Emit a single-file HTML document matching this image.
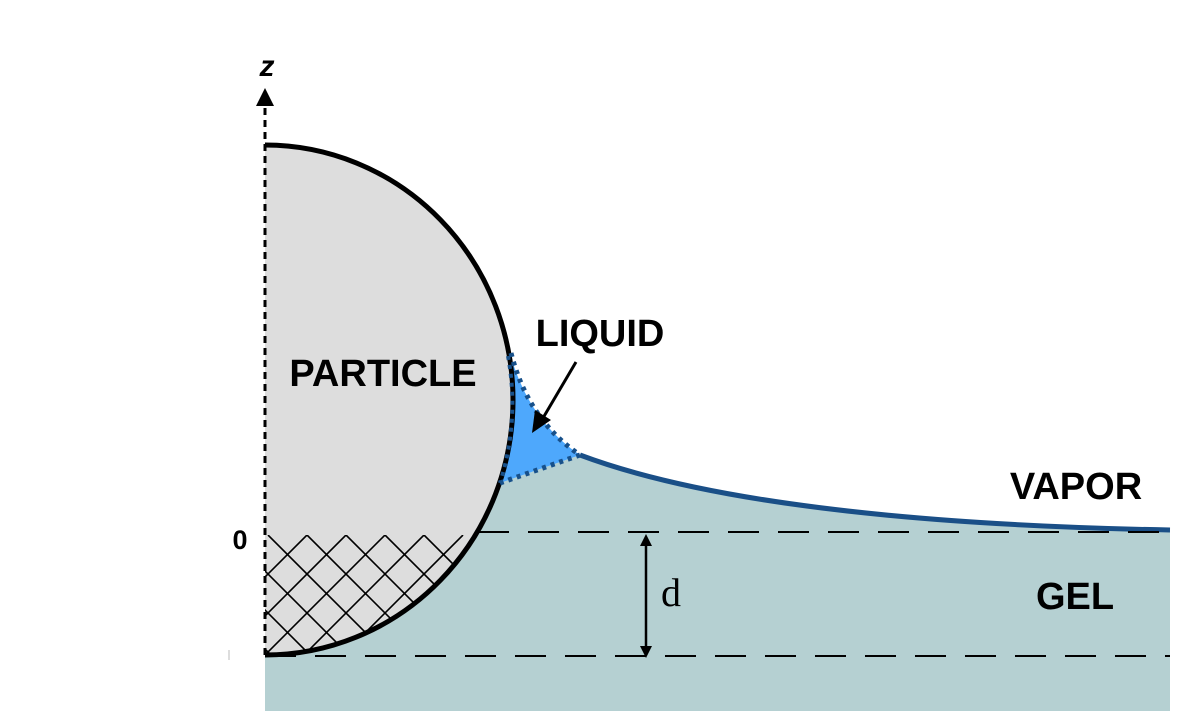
<!DOCTYPE html>
<html><head><meta charset="utf-8"><style>
html,body{margin:0;background:#fff;overflow:hidden;width:1181px;height:711px}
svg{display:block}
text{font-family:"Liberation Sans",Arial,sans-serif;font-weight:bold}
</style></head><body>
<svg width="1181" height="711" viewBox="0 0 1181 711">
<defs>
<clipPath id="hc"><path d="M265,535 L478,535 A248,255 0 0 1 265,655 Z"/></clipPath>
</defs>
<path d="M265,655 A248,255 0 0 0 500,483 L580,455 C700,500 900,525 1170,530 L1170,711 L265,711 Z" fill="#b5d0d2"/>
<path d="M265,145 A248,255 0 0 1 265,655 Z" fill="#dddddd"/>
<g clip-path="url(#hc)" stroke="#000" stroke-width="1.6">
<path d="M-200,535 l300,300 M-161,535 l300,300 M-122,535 l300,300 M-83,535 l300,300 M-44,535 l300,300 M-5,535 l300,300 M34,535 l300,300 M73,535 l300,300 M112,535 l300,300 M151,535 l300,300 M190,535 l300,300 M229,535 l300,300 M268,535 l300,300 M307,535 l300,300 M346,535 l300,300 M385,535 l300,300 M424,535 l300,300"/>
<path d="M736,535 l-300,300 M697,535 l-300,300 M658,535 l-300,300 M619,535 l-300,300 M580,535 l-300,300 M541,535 l-300,300 M502,535 l-300,300 M463,535 l-300,300 M424,535 l-300,300 M385,535 l-300,300 M346,535 l-300,300 M307,535 l-300,300"/>
</g>
<path d="M510,353 Q528,420 580,455 L500,483 A248,255 0 0 0 510,353 Z" fill="#4ea8fc"/>
<path d="M265,145 A248,255 0 0 1 265,655" fill="none" stroke="#000" stroke-width="5"/>
<path d="M511,353 Q528,420 580,455 L500,483" fill="none" stroke="#17508a" stroke-width="5" stroke-dasharray="4,5"/>
<path d="M508,356 A248,255 0 0 1 500,483" fill="none" stroke="#17508a" stroke-width="4" stroke-dasharray="4,5"/>
<path d="M580,455 C700,500 900,525 1170,530" fill="none" stroke="#1a4f87" stroke-width="5"/>
<line x1="265" y1="655" x2="265" y2="104" stroke="#000" stroke-width="3" stroke-dasharray="7,5"/>
<path d="M256,106 L265,88 L274,106 Z" fill="#000"/>
<text x="267" y="76" font-size="30" font-style="italic" text-anchor="middle">z</text>
<text x="240" y="549" font-size="27" text-anchor="middle">0</text>
<line x1="229" y1="650" x2="229" y2="660" stroke="#bbb" stroke-width="1"/>
<line x1="478" y1="532" x2="1170" y2="532" stroke="#000" stroke-width="2" stroke-dasharray="31,19"/>
<line x1="265" y1="656" x2="1170" y2="656" stroke="#000" stroke-width="2" stroke-dasharray="31,19"/>
<line x1="646" y1="542" x2="646" y2="649" stroke="#000" stroke-width="2.5"/>
<path d="M640,546 L646,534 L652,546 Z M640,646 L646,658 L652,646 Z" fill="#000"/>
<text x="671" y="606" font-size="40" style="font-family:'Liberation Serif',serif;font-weight:normal" text-anchor="middle">d</text>
<text x="383" y="386" font-size="38" text-anchor="middle">PARTICLE</text>
<text x="600" y="346" font-size="38" text-anchor="middle">LIQUID</text>
<line x1="576" y1="362" x2="543" y2="418" stroke="#000" stroke-width="3"/>
<path d="M532,433 L535,410 L551,420 Z" fill="#000"/>
<text x="1076" y="499" font-size="38" text-anchor="middle">VAPOR</text>
<text x="1075" y="609" font-size="38" text-anchor="middle">GEL</text>
</svg>
</body></html>
